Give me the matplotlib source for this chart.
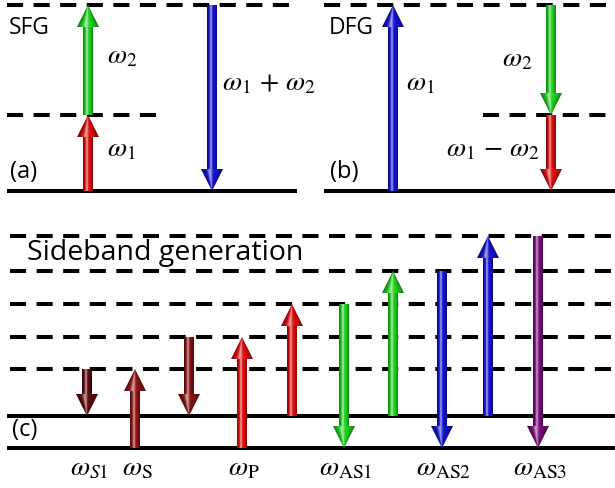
import numpy as np
import matplotlib
matplotlib.use('Agg')
import matplotlib.pyplot as plt
from matplotlib.patches import Polygon
from matplotlib.colors import to_rgb

plt.rcParams['mathtext.fontset'] = 'stix'

# ---------------- data (energies in arbitrary units above ground) ----------------
# (a) sum-frequency generation
sfg_virtual = [76, 186]
sfg_arrows = [(0, 76), (76, 186), (186, 0)]          # (start, end)
sfg_colors = ['#e00c0c', '#1ed21e', '#1212d2']
sfg_labels = [r'$\omega_1$', r'$\omega_2$', r'$\omega_1\,+\,\omega_2$']

# (b) difference-frequency generation
dfg_virtual = [76, 186]
dfg_arrows = [(0, 186), (186, 76), (76, 0)]
dfg_colors = ['#1212d2', '#1ed21e', '#e00c0c']
dfg_labels = [r'$\omega_1$', r'$\omega_2$', r'$\omega_1\,-\,\omega_2$']

# (c) sideband generation
sb_solid = [0, 32]
sb_virtual = [79, 111, 144, 177, 212]
sb_arrows = [(79, 32), (0, 79), (111, 32), (0, 111), (32, 144),
             (144, 0), (32, 177), (177, 0), (32, 212), (212, 0)]
sb_colors = ['#5c0909', '#8e1414', '#861111', '#e00c0c', '#e00c0c',
             '#1ed21e', '#1ed21e', '#1212d2', '#1212d2', '#7a0c7a']
sb_labels = [r'$\omega_{S1}$', r'$\omega_{\mathrm{S}}$', '', r'$\omega_{\mathrm{P}}$', '',
             r'$\omega_{\mathrm{AS1}}$', '', r'$\omega_{\mathrm{AS2}}$', '', r'$\omega_{\mathrm{AS3}}$']

# ---------------- layout ----------------
W, H = 615, 488
fig = plt.figure(figsize=(W / 100, H / 100), dpi=100)
ax = fig.add_axes([0, 0, 1, 1])
ax.set_xlim(0, W)
ax.set_ylim(H, 0)
ax.axis('off')

LW = 2.9
DASH = (0, (4.0, 2.6))
SANS = 'Open Sans'


def hline(y, x0, x1, dashed=False):
    ax.plot([x0, x1], [y, y], color='black', lw=LW,
            linestyle=DASH if dashed else '-', zorder=1,
            solid_capstyle='butt', dash_capstyle='butt')


def arrow(xc, y_tail, y_tip, color, shaft=5.0, head_hw=11.0, head_len=22.0):
    s = np.sign(y_tip - y_tail)
    y_hb = y_tip - s * head_len
    pts = [(xc - shaft, y_tail), (xc - shaft, y_hb), (xc - head_hw, y_hb), (xc, y_tip),
           (xc + head_hw, y_hb), (xc + shaft, y_hb), (xc + shaft, y_tail)]
    poly = Polygon(pts, closed=True, facecolor='none', edgecolor='none',
                   transform=ax.transData, zorder=2)
    ax.add_patch(poly)
    y0, y1 = min(y_tail, y_tip), max(y_tail, y_tip)
    x0, x1 = xc - head_hw, xc + head_hw
    res = 0.25
    xs = np.arange(x0, x1, res) + res / 2
    ys = np.arange(y0, y1, res) + res / 2
    X, Y = np.meshgrid(xs, ys)
    dist_tip = np.abs(Y - y_tip)
    hw = np.where(dist_tip < head_len, head_hw * dist_tip / head_len + 1e-6, shaft)
    u = np.clip((X - xc) / hw, -1, 1)
    base = np.array(to_rgb(color))
    white_mix = 0.6 * np.exp(-((u + 0.2) / 0.22) ** 2)
    dark = 0.45 * np.abs(u) ** 2.5
    img = base[None, None, :] * (1 - dark[..., None])
    img = img * (1 - white_mix[..., None]) + white_mix[..., None]
    im = ax.imshow(img, extent=(x0, x1, y1, y0), origin='upper',
                   interpolation='bilinear', zorder=2, aspect='auto')
    im.set_clip_path(poly)


# ---------------- panel (a) ----------------
base_a = 191
hline(base_a, 7, 297)
hline(base_a - sfg_virtual[0], 7, 165, dashed=True)
hline(base_a - sfg_virtual[1], 7, 290, dashed=True)
xa = [88, 88, 212]
for x, (e0, e1), c in zip(xa, sfg_arrows, sfg_colors):
    arrow(x, base_a - e0, base_a - e1, c)
ax.text(9, 28, 'SFG', fontsize=16.5, family=SANS, va='center', ha='left')
ax.text(10, 172, '(a)', fontsize=17, family=SANS, va='center', ha='left')
lab_pos_a = [(107, 148), (107, 55), (222, 82)]
for (x, y), t in zip(lab_pos_a, sfg_labels):
    ax.text(x, y, t, fontsize=20, va='center', ha='left')

# ---------------- panel (b) ----------------
base_b = 191
hline(base_b, 324, 615)
hline(base_b - dfg_virtual[0], 483, 615, dashed=True)
hline(base_b - dfg_virtual[1], 324, 615, dashed=True)
xb = [393, 551, 551]
for x, (e0, e1), c in zip(xb, dfg_arrows, dfg_colors):
    arrow(x, base_b - e0, base_b - e1, c)
ax.text(329, 28, 'DFG', fontsize=16.5, family=SANS, va='center', ha='left')
ax.text(330, 172, '(b)', fontsize=17, family=SANS, va='center', ha='left')
lab_pos_b = [(406, 82), (502, 58), (446, 148)]
for (x, y), t in zip(lab_pos_b, dfg_labels):
    ax.text(x, y, t, fontsize=20, va='center', ha='left')

# ---------------- panel (c) ----------------
base_c = 448
for e in sb_solid:
    hline(base_c - e, 7, 615)
for e in sb_virtual:
    hline(base_c - e, 10, 615, dashed=True)
xc_list = [87, 135, 189, 242, 292, 344, 393, 442, 488, 538]
for x, (e0, e1), c in zip(xc_list, sb_arrows, sb_colors):
    arrow(x, base_c - e0, base_c - e1, c)
for x, t in zip(xc_list, sb_labels):
    if t:
        ax.text(x + 2, 467, t, fontsize=20, va='center', ha='center')
ax.text(27, 253, 'Sideband generation', fontsize=20.5, family=SANS,
        va='center', ha='left')
ax.text(12, 430, '(c)', fontsize=17, family=SANS, va='center', ha='left')

ax.set_xlim(0, W)
ax.set_ylim(H, 0)
fig.savefig('out.png', dpi=100, facecolor='white')
